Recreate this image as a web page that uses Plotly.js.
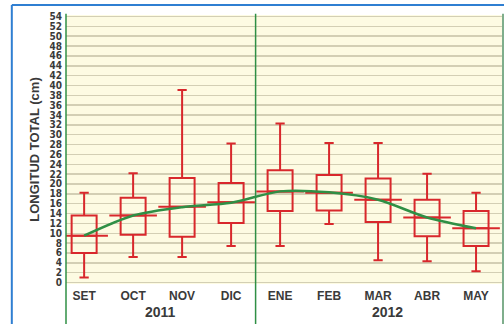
<!DOCTYPE html>
<html>
<head>
<meta charset="utf-8">
<script src="https://cdn.plot.ly/plotly-3.0.1.min.js"></script>
<style>
html,body{margin:0;padding:0;background:#fff;}
#chart{width:504px;height:324px;}
</style>
</head>
<body>
<div id="chart"></div>
<script>
const months = ['SET','OCT','NOV','DIC','ENE','FEB','MAR','ABR','MAY'];
const years = ['2011','2012'];
const monthsPerYear = [4, 5];
const lowerfence = [1.0, 5.2, 5.2, 7.4, 7.4, 11.9, 4.5, 4.3, 2.3];
const q1 = [6.0, 9.7, 9.3, 12.1, 14.5, 14.6, 12.3, 9.4, 7.4];
const median = [9.5, 13.6, 15.4, 16.3, 18.5, 18.2, 16.8, 13.2, 11.0];
const q3 = [13.6, 17.2, 21.2, 20.2, 22.8, 21.8, 21.1, 16.8, 14.5];
const upperfence = [18.2, 22.2, 39.1, 28.2, 32.3, 28.3, 28.3, 22.1, 18.2];
const trend = [9.5, 13.6, 15.3, 16.2, 18.5, 18.3, 16.8, 13.2, 11.0];
const yTicks = [];
for (let v = 0; v <= 54; v += 2) yTicks.push(v);

const RED = '#d8282c';
const GREEN = '#2f8f45';
const TXT = '#3a3a3a';
const tickFont = {family: '"Liberation Sans Narrow", "DejaVu Sans Condensed", Arial', size: 10, color: TXT, weight: 'bold'};

const traces = [
  {
    type: 'box', x: months, q1: q1, median: median, q3: q3,
    lowerfence: lowerfence, upperfence: upperfence,
    boxpoints: false, width: 0.51, whiskerwidth: 0.37,
    line: {color: RED, width: 2}, fillcolor: 'rgba(0,0,0,0)',
    hoverinfo: 'skip', showlegend: false
  },
  {
    type: 'scatter', mode: 'markers', x: months, y: median,
    marker: {symbol: 'line-ew-open', size: 34, color: RED, line: {color: RED, width: 2}},
    hoverinfo: 'skip', showlegend: false
  },
  {
    type: 'scatter', mode: 'lines', x: months, y: trend,
    line: {color: GREEN, width: 2.5, shape: 'spline', smoothing: 0.8},
    hoverinfo: 'skip', showlegend: false
  }
];

const sepIndex = monthsPerYear[0] - 0.5;
const yearCenters = [ (monthsPerYear[0]-1)/2 + 0.05, monthsPerYear[0] + 2.2 ];

const layout = {
  width: 504, height: 324,
  margin: {l: 66, r: 1, t: 15, b: 40},
  paper_bgcolor: '#ffffff',
  plot_bgcolor: '#fdfbe2',
  showlegend: false,
  xaxis: {
    type: 'category', range: [-0.37, 8.55],
    showgrid: false, zeroline: false, showline: false,
    ticks: '', tickfont: {family: 'Arial, "Liberation Sans"', size: 12, color: TXT, weight: 'bold'},
    ticklabelstandoff: 3
  },
  yaxis: {
    range: [-0.3, 54.3], tickvals: yTicks, ticktext: yTicks.map(String),
    showgrid: true, gridcolor: '#d3cfb4', gridwidth: 1.5,
    zeroline: false, showline: false, ticks: '',
    tickfont: tickFont, ticklabelstandoff: 3,
    title: {text: 'LONGITUD TOTAL (cm)', font: {family: 'Arial, "Liberation Sans"', size: 13, color: TXT, weight: 'bold'}, standoff: 6}
  },
  annotations: years.map((yr, i) => ({
    x: yearCenters[i], xref: 'x', y: -0.105, yref: 'paper', yanchor: 'middle',
    text: yr, showarrow: false,
    font: {family: 'Arial, "Liberation Sans"', size: 14, color: TXT, weight: 'bold'}
  })),
  shapes: [
    {type: 'line', xref: 'paper', yref: 'paper', x0: 0, x1: 0, y0: -0.15, y1: 1.005, line: {color: GREEN, width: 1.5}},
    {type: 'line', xref: 'x', yref: 'paper', x0: sepIndex, x1: sepIndex, y0: -0.15, y1: 1.005, line: {color: GREEN, width: 1.5}},
    {type: 'line', xref: 'paper', yref: 'paper', x0: 1, x1: 1, y0: -0.15, y1: 1.005, line: {color: '#7fae8c', width: 2}},
    {type: 'line', xref: 'paper', yref: 'paper', x0: -0.124, x1: 1.01, y0: 1.037, y1: 1.037, line: {color: '#2f7fd2', width: 2}},
    {type: 'line', xref: 'paper', yref: 'paper', x0: -0.124, x1: -0.124, y0: -0.15, y1: 1.037, line: {color: '#2f7fd2', width: 2}}
  ]
};

Plotly.newPlot('chart', traces, layout, {staticPlot: true, displayModeBar: false});
</script>
</body>
</html>
